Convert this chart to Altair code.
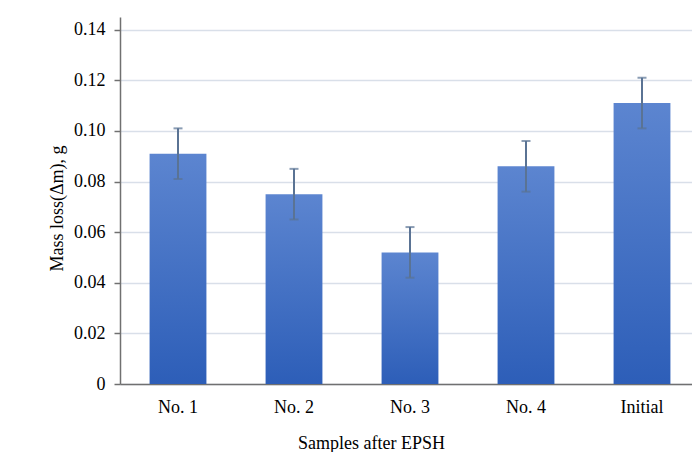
import altair as alt
import pandas as pd

categories = ["No. 1", "No. 2", "No. 3", "No. 4", "Initial"]
values = [0.091, 0.075, 0.052, 0.086, 0.111]
errors = [0.010, 0.010, 0.010, 0.010, 0.010]
y_ticks = [0, 0.02, 0.04, 0.06, 0.08, 0.10, 0.12, 0.14]

df = pd.DataFrame({"sample": categories, "loss": values, "err": errors})
df["low"] = df["loss"] - df["err"]
df["high"] = df["loss"] + df["err"]

FONT = "Liberation Serif"
ERR_COLOR = "#5a7394"

x_enc = alt.X(
    "sample:N",
    sort=categories,
    scale=alt.Scale(paddingInner=0.51, paddingOuter=0.255, range=[0, 580]),
    axis=alt.Axis(
        title="Samples after EPSH",
        labelAngle=0,
        ticks=False,
        tickSize=0,
        grid=False,
        labelPadding=28,
        labelBaseline="alphabetic",
        titleX=251,
        titleY=64,
        titleBaseline="alphabetic",
        domainColor="#707070",
        domainWidth=1.5,
    ),
)

y_axis = alt.Axis(
    values=y_ticks,
    labelExpr="datum.value == 0 ? '0' : format(datum.value, '.2f')",
    title="Mass loss(Δm), g",
    tickSize=6,
    tickColor="#707070",
    tickWidth=1.5,
    labelPadding=9,
    titleX=-63,
    titleY=191,
    titleBaseline="middle",
    grid=True,
    gridColor="#d9dfe9",
    gridWidth=1.5,
    domainColor="#707070",
    domainWidth=1.5,
)
y_scale = alt.Scale(domain=[0, 0.145], nice=False)

gradient = alt.Gradient(
    gradient="linear",
    stops=[
        alt.GradientStop(color="#5c85d0", offset=0),
        alt.GradientStop(color="#2d5eb8", offset=1),
    ],
    x1=0, x2=0, y1=0, y2=1,
)

bars = alt.Chart(df).mark_bar(color=gradient).encode(
    x=x_enc,
    y=alt.Y("loss:Q", scale=y_scale, axis=y_axis),
)

rules = alt.Chart(df).mark_rule(color=ERR_COLOR, strokeWidth=2).encode(
    x=x_enc,
    y=alt.Y("low:Q", scale=y_scale, axis=y_axis),
    y2="high:Q",
)

caps_hi = alt.Chart(df).mark_tick(color=ERR_COLOR, thickness=2, size=9).encode(
    x=x_enc,
    y=alt.Y("high:Q", scale=y_scale, axis=y_axis),
)
caps_lo = alt.Chart(df).mark_tick(color=ERR_COLOR, thickness=2, size=9).encode(
    x=x_enc,
    y=alt.Y("low:Q", scale=y_scale, axis=y_axis),
)

chart = (
    alt.layer(bars, rules, caps_hi, caps_lo)
    .properties(
        width=572,
        height=367,
        autosize=alt.AutoSizeParams(type="none"),
        padding={"left": 112, "top": 9, "right": 0, "bottom": 68},
        background="white",
    )
    .configure_view(stroke=None)
    .configure_axis(
        labelFont=FONT,
        titleFont=FONT,
        labelFontSize=18,
        titleFontSize=18,
        labelColor="#000000",
        titleColor="#000000",
        titleFontWeight="normal",
    )
)

chart.save("out.html", embed_options={"renderer": "svg", "actions": False})
